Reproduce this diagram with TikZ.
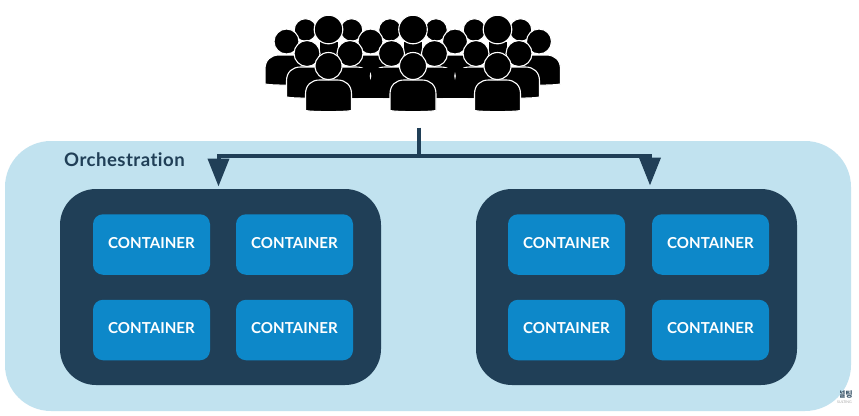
\documentclass[tikz,border=0pt]{standalone}
\usepackage{fontspec}
\setmainfont{Lato}[Ligatures=NoCommon]
\newfontfamily\krfont{Noto Sans CJK KR}
\usetikzlibrary{arrows.meta}
\definecolor{orchbg}{HTML}{C1E2EF}
\definecolor{navy}{HTML}{203F57}
\definecolor{cblue}{HTML}{0D88C9}
\tikzset{
  orchbox/.style={fill=orchbg,rounded corners=46pt,minimum width=846pt,minimum height=270pt,inner sep=0pt},
  hostbox/.style={fill=navy,rounded corners=36pt,minimum width=321pt,minimum height=196pt,inner sep=0pt},
  ctr/.style={fill=cblue,rounded corners=10pt,minimum width=117pt,minimum height=60.5pt,inner sep=0pt,text=white,text depth=3.6pt,font=\fontsize{15.1}{16}\selectfont\bfseries},
  orchlabel/.style={text=navy,font=\fontsize{18.6}{20}\selectfont\bfseries\addfontfeature{LetterSpace=2.5},inner sep=0pt,anchor=west},
  conn/.style={draw=navy,line width=4pt},
  connarrow/.style={conn,-{Triangle[length=28pt,width=21pt]}},
  persona/.style={fill=black,draw=white,line width=1.1pt}
}
% one person: head centre x,y; head radius r; body half width w; body top t, bottom b
\newcommand{\psn}[6]{%
  \fill[persona] (#1-#4,#6) .. controls (#1-#4+6,#6+1.5) and (#1+#4-6,#6+1.5) .. (#1+#4,#6)
     -- (#1+#4,#5+14) .. controls (#1+#4,#5+5) and (#1+#4-6,#5) .. (#1+#4-14,#5)
     -- (#1-#4+14,#5) .. controls (#1-#4+6,#5) and (#1-#4,#5+5) .. (#1-#4,#5+14) -- cycle;
  \fill[persona] (#1,#2) circle ({#3});
}
\newcommand{\crowd}[1]{%
  \fill[persona] (#1-23,30) circle (11.3);
  \fill[persona] (#1+23,30) circle (11.3);
  \fill[black] (#1-9,42) rectangle (#1+9,56);
  \fill[persona] (#1,29.5) circle (14.3);
}
\newcommand{\crowdmid}[1]{%
  \psn{#1-21.5}{53.5}{13}{20.5}{67}{97}
  \psn{#1+21.5}{53.5}{13}{20.5}{67}{97}
}
\begin{document}
\begin{tikzpicture}[x=1pt,y=-1pt]
\useasboundingbox (0,0) rectangle (859,415);
\fill[white] (0,0) rectangle (859,415);
% crowd
\crowd{328.5}\crowd{413}\crowd{497.5}
\psn{286.5}{41.5}{12.5}{21.5}{55}{84}
\psn{370.5}{41.5}{12.5}{21.5}{55}{84}
\psn{455}{41.5}{12.5}{21.5}{55}{84}
\psn{539}{41.5}{12.5}{21.5}{55}{84}
\crowdmid{328.5}\crowdmid{413}\crowdmid{497.5}
% bodies run together between the groups
\fill[black] (351,67.5) rectangle (391,97.5);
\fill[black] (435.5,67.5) rectangle (475.5,97.5);
\fill[white] (370.5,72) -- (371.3,76) -- (370.5,80) -- (369.7,76) -- cycle;
\fill[white] (455,72) -- (455.8,76) -- (455,80) -- (454.2,76) -- cycle;
\psn{328.5}{66}{13.5}{23}{80}{110.5}
\psn{413}{66}{13.5}{23}{80}{110.5}
\psn{497.5}{66}{13.5}{23}{80}{110.5}
% panels
\node[orchbox] (orch) at (428,276) {};
\begin{scope}
\clip (840,385) rectangle (859,400);
\node[text=navy!85,font=\krfont\fontsize{8}{9}\selectfont\bfseries,inner sep=0pt,anchor=east] (wm) at (853,394.5) {설팅};
\end{scope}
\node[text=gray!70,font=\fontsize{3.6}{4}\selectfont,inner sep=0pt,anchor=east] (wmb) at (852,402) {SULTING};
\node[orchlabel] (title) at (64,160) {Orchestration};
\node[hostbox] (hostL) at (220.5,287) {};
\node[hostbox] (hostR) at (636.5,287) {};
\node[ctr] (c11) at (151.5,244.5) {CONTAINER};
\node[ctr] (c12) at (294.5,244.5) {CONTAINER};
\node[ctr] (c13) at (151.5,330) {CONTAINER};
\node[ctr] (c14) at (294.5,330) {CONTAINER};
\node[ctr] (c21) at (566.5,244.5) {CONTAINER};
\node[ctr] (c22) at (710.5,244.5) {CONTAINER};
\node[ctr] (c23) at (566.5,330) {CONTAINER};
\node[ctr] (c24) at (710.5,330) {CONTAINER};
% connectors
\coordinate (crowdfoot) at (418.5,127.5);
\coordinate (hub) at (418.5,155.5);
\coordinate (tipL) at (218.5,186.5);
\coordinate (tipR) at (650,185.5);
\draw[conn] (crowdfoot) -- (hub);
\draw[connarrow] (hub) -| (tipL);
\draw[connarrow] (hub) -| (tipR);
\end{tikzpicture}
\end{document}
